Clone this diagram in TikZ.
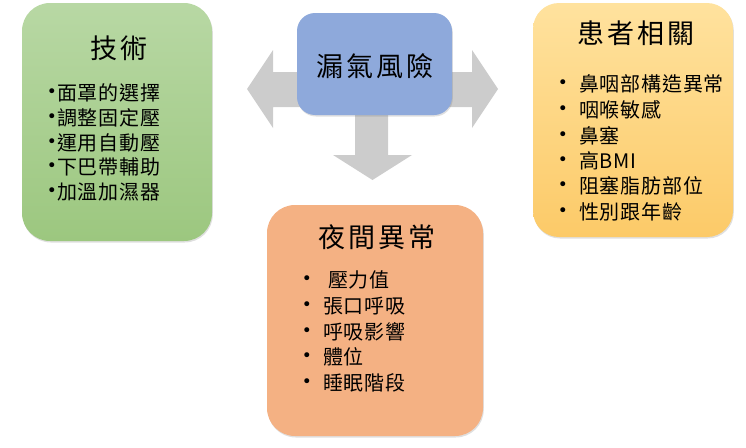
\documentclass[tikz,border=0pt]{standalone}
\usepackage{fontspec}
\setmainfont{Noto Sans CJK TC}
\newfontfamily\cjkitem[LetterSpace=4]{Noto Sans CJK TC}
\newfontfamily\cjktitle[LetterSpace=10]{Noto Sans CJK TC}
\newfontfamily\bulletfont{DejaVu Sans}
\usetikzlibrary{shadows}
\definecolor{greentop}{RGB}{184,216,164}
\definecolor{greenbot}{RGB}{156,199,127}
\definecolor{yeltop}{RGB}{255,226,158}
\definecolor{yelbot}{RGB}{252,202,104}
\definecolor{salmon}{RGB}{244,177,131}
\definecolor{riskblue}{RGB}{142,169,219}
\definecolor{arrowgray}{RGB}{204,204,204}
\tikzset{
  boxbase/.style={rectangle, draw=none, inner sep=0pt,
    drop shadow={opacity=0.25, shadow xshift=0.8pt, shadow yshift=-1.5pt}},
  titletext/.style={inner sep=0pt, font=\cjktitle\fontsize{27}{31}\selectfont},
  itemtext/.style={inner sep=0pt, anchor=west, font=\cjkitem\fontsize{20}{23}\selectfont},
  bullettext/.style={inner sep=0pt, font=\bulletfont\fontsize{17}{19}\selectfont},
}
\begin{document}
\begin{tikzpicture}[x=1pt,y=-1pt]
\useasboundingbox (0,0) rectangle (746,447);

% gray block arrows behind the centre box
\fill[arrowgray] (247,89) -- (273,50) -- (273,72) -- (472,72) -- (472,50)
  -- (498,89) -- (472,128) -- (472,107) -- (388,107) -- (388,155)
  -- (412,155) -- (372.5,180) -- (333,155) -- (355,155) -- (355,107)
  -- (273,107) -- (273,128) -- cycle;

% boxes
\node[boxbase, rounded corners=28pt, minimum width=190pt, minimum height=238pt,
  top color=greentop, bottom color=greenbot] (tech) at (117,122) {};
\node[boxbase, rounded corners=18pt, minimum width=155pt, minimum height=102pt,
  fill=riskblue] (risk) at (374.5,64) {};
\node[boxbase, rounded corners=26pt, minimum width=200pt, minimum height=234pt,
  top color=yeltop, bottom color=yelbot] (patient) at (633,120) {};
\node[boxbase, rounded corners=28pt, minimum width=216pt, minimum height=231pt,
  fill=salmon] (night) at (375,320.5) {};

% titles
\node[titletext] (techT) at (119,48) {技術};
\node[titletext] (riskT) at (375,66) {漏氣風險};
\node[titletext] (patientT) at (636,33) {患者相關};
\node[titletext] (nightT) at (377,237) {夜間異常};

% technique items
\foreach \y/\t [count=\i] in {93/面罩的選擇, 118/調整固定壓, 143/運用自動壓, 167/下巴帶輔助, 192/加溫加濕器}{
  \node[bullettext] (techB\i) at (52,\y) {•};
  \node[itemtext] (techI\i) at (57,\y) {\t};
}

% patient items
\foreach \y/\t [count=\i] in {84/鼻咽部構造異常, 110/咽喉敏感, 136/鼻塞, 161/高BMI, 186/阻塞脂肪部位, 212/性別跟年齡}{
  \node[bullettext] (patB\i) at (563,\y) {•};
  \node[itemtext] (patI\i) at (579,\y) {\t};
}

% night items
\node[bullettext] (nigB1) at (307,280) {•};
\node[itemtext] (nigI1) at (328,280) {壓力值};
\foreach \y/\t [count=\i from 2] in {306/張口呼吸, 332/呼吸影響, 357/體位, 383/睡眠階段}{
  \node[bullettext] (nigB\i) at (307,\y) {•};
  \node[itemtext] (nigI\i) at (323,\y) {\t};
}
\end{tikzpicture}
\end{document}
